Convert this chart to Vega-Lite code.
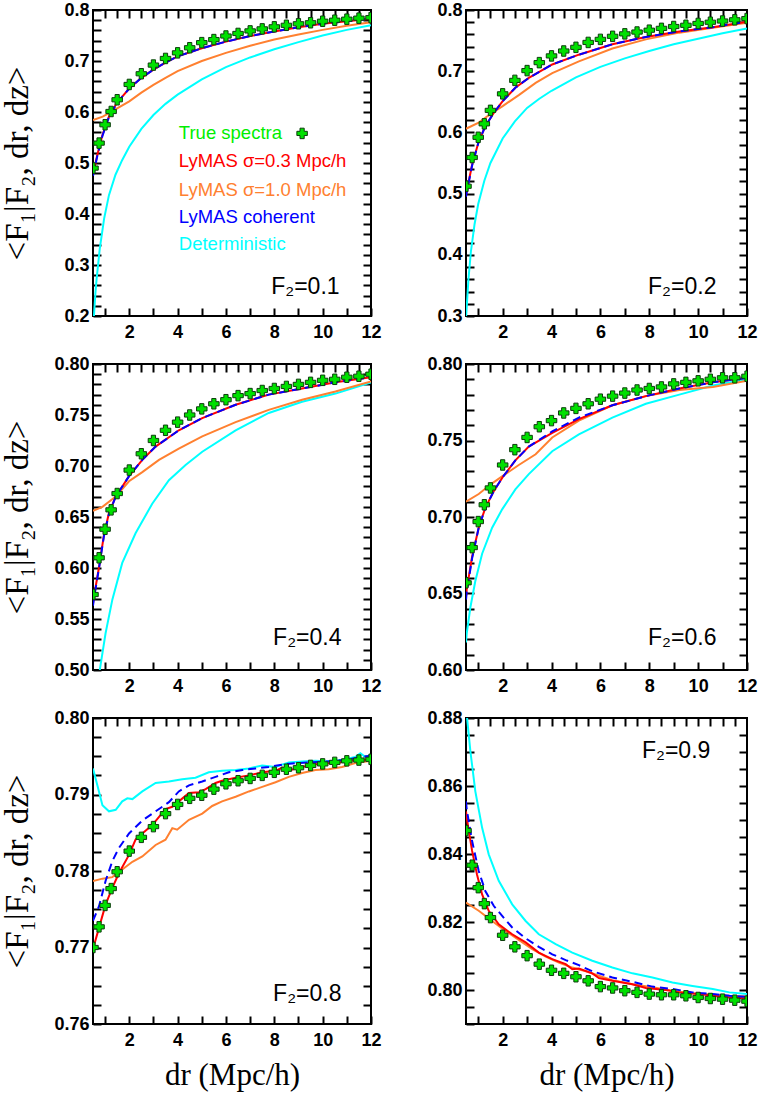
{
"$schema":"https://vega.github.io/schema/vega-lite/v6.json",
"padding":{"left":0,"top":0,"right":5,"bottom":5},
"datasets":{
"d":[
{"f":0.1,"s":"t","x":0.5,"y":0.49},{"f":0.1,"s":"t","x":0.75,"y":0.539},{"f":0.1,"s":"t","x":1,"y":0.575},{"f":0.1,"s":"t","x":1.25,"y":0.601},{"f":0.1,"s":"t","x":1.5,"y":0.624},{"f":0.1,"s":"t","x":2,"y":0.654},{"f":0.1,"s":"t","x":2.5,"y":0.675},{"f":0.1,"s":"t","x":3,"y":0.692},{"f":0.1,"s":"t","x":3.5,"y":0.705},{"f":0.1,"s":"t","x":4,"y":0.716},{"f":0.1,"s":"t","x":4.5,"y":0.726},{"f":0.1,"s":"t","x":5,"y":0.736},{"f":0.1,"s":"t","x":5.5,"y":0.742},{"f":0.1,"s":"t","x":6,"y":0.749},{"f":0.1,"s":"t","x":6.5,"y":0.754},{"f":0.1,"s":"t","x":7,"y":0.759},{"f":0.1,"s":"t","x":7.5,"y":0.763},{"f":0.1,"s":"t","x":8,"y":0.767},{"f":0.1,"s":"t","x":8.5,"y":0.77},{"f":0.1,"s":"t","x":9,"y":0.773},{"f":0.1,"s":"t","x":9.5,"y":0.775},{"f":0.1,"s":"t","x":10,"y":0.778},{"f":0.1,"s":"t","x":10.5,"y":0.78},{"f":0.1,"s":"t","x":11,"y":0.782},{"f":0.1,"s":"t","x":11.5,"y":0.784},{"f":0.1,"s":"t","x":12,"y":0.785},
{"f":0.1,"s":"r","x":0.5,"y":0.477},{"f":0.1,"s":"r","x":0.68,"y":0.516},{"f":0.1,"s":"r","x":0.89,"y":0.555},{"f":0.1,"s":"r","x":1.16,"y":0.591},{"f":0.1,"s":"r","x":1.44,"y":0.614},{"f":0.1,"s":"r","x":1.71,"y":0.63},{"f":0.1,"s":"r","x":2,"y":0.646},{"f":0.1,"s":"r","x":2.5,"y":0.667},{"f":0.1,"s":"r","x":3,"y":0.683},{"f":0.1,"s":"r","x":3.5,"y":0.697},{"f":0.1,"s":"r","x":4,"y":0.709},{"f":0.1,"s":"r","x":5,"y":0.725},{"f":0.1,"s":"r","x":6,"y":0.738},{"f":0.1,"s":"r","x":7,"y":0.749},{"f":0.1,"s":"r","x":8,"y":0.758},{"f":0.1,"s":"r","x":9,"y":0.766},{"f":0.1,"s":"r","x":10,"y":0.773},{"f":0.1,"s":"r","x":11,"y":0.778},{"f":0.1,"s":"r","x":12,"y":0.783},
{"f":0.1,"s":"b","x":0.5,"y":0.475},{"f":0.1,"s":"b","x":0.68,"y":0.514},{"f":0.1,"s":"b","x":0.89,"y":0.553},{"f":0.1,"s":"b","x":1.16,"y":0.59},{"f":0.1,"s":"b","x":1.44,"y":0.613},{"f":0.1,"s":"b","x":1.71,"y":0.63},{"f":0.1,"s":"b","x":2,"y":0.646},{"f":0.1,"s":"b","x":2.5,"y":0.667},{"f":0.1,"s":"b","x":3,"y":0.683},{"f":0.1,"s":"b","x":3.5,"y":0.697},{"f":0.1,"s":"b","x":4,"y":0.709},{"f":0.1,"s":"b","x":5,"y":0.725},{"f":0.1,"s":"b","x":6,"y":0.738},{"f":0.1,"s":"b","x":7,"y":0.749},{"f":0.1,"s":"b","x":8,"y":0.758},{"f":0.1,"s":"b","x":9,"y":0.766},{"f":0.1,"s":"b","x":10,"y":0.773},{"f":0.1,"s":"b","x":11,"y":0.778},{"f":0.1,"s":"b","x":12,"y":0.783},
{"f":0.1,"s":"o","x":0.5,"y":0.584},{"f":0.1,"s":"o","x":0.9,"y":0.591},{"f":0.1,"s":"o","x":1.3,"y":0.601},{"f":0.1,"s":"o","x":1.5,"y":0.607},{"f":0.1,"s":"o","x":2,"y":0.621},{"f":0.1,"s":"o","x":2.5,"y":0.638},{"f":0.1,"s":"o","x":3,"y":0.653},{"f":0.1,"s":"o","x":3.5,"y":0.667},{"f":0.1,"s":"o","x":4,"y":0.68},{"f":0.1,"s":"o","x":5,"y":0.7},{"f":0.1,"s":"o","x":6,"y":0.716},{"f":0.1,"s":"o","x":7,"y":0.73},{"f":0.1,"s":"o","x":8,"y":0.742},{"f":0.1,"s":"o","x":9,"y":0.752},{"f":0.1,"s":"o","x":10,"y":0.761},{"f":0.1,"s":"o","x":11,"y":0.769},{"f":0.1,"s":"o","x":12,"y":0.776},
{"f":0.1,"s":"c","x":0.5,"y":0.175},{"f":0.1,"s":"c","x":0.54,"y":0.201},{"f":0.1,"s":"c","x":0.6,"y":0.245},{"f":0.1,"s":"c","x":0.65,"y":0.273},{"f":0.1,"s":"c","x":0.78,"y":0.332},{"f":0.1,"s":"c","x":0.96,"y":0.391},{"f":0.1,"s":"c","x":1.16,"y":0.437},{"f":0.1,"s":"c","x":1.43,"y":0.477},{"f":0.1,"s":"c","x":1.71,"y":0.506},{"f":0.1,"s":"c","x":2,"y":0.532},{"f":0.1,"s":"c","x":2.5,"y":0.567},{"f":0.1,"s":"c","x":3,"y":0.594},{"f":0.1,"s":"c","x":3.5,"y":0.616},{"f":0.1,"s":"c","x":4,"y":0.634},{"f":0.1,"s":"c","x":5,"y":0.664},{"f":0.1,"s":"c","x":6,"y":0.688},{"f":0.1,"s":"c","x":7,"y":0.707},{"f":0.1,"s":"c","x":8,"y":0.723},{"f":0.1,"s":"c","x":9,"y":0.737},{"f":0.1,"s":"c","x":10,"y":0.75},{"f":0.1,"s":"c","x":11,"y":0.761},{"f":0.1,"s":"c","x":12,"y":0.77},

{"f":0.2,"s":"t","x":0.5,"y":0.512},{"f":0.2,"s":"t","x":0.75,"y":0.559},{"f":0.2,"s":"t","x":1,"y":0.592},{"f":0.2,"s":"t","x":1.25,"y":0.614},{"f":0.2,"s":"t","x":1.5,"y":0.636},{"f":0.2,"s":"t","x":2,"y":0.663},{"f":0.2,"s":"t","x":2.5,"y":0.685},{"f":0.2,"s":"t","x":3,"y":0.701},{"f":0.2,"s":"t","x":3.5,"y":0.714},{"f":0.2,"s":"t","x":4,"y":0.725},{"f":0.2,"s":"t","x":4.5,"y":0.733},{"f":0.2,"s":"t","x":5,"y":0.739},{"f":0.2,"s":"t","x":5.5,"y":0.747},{"f":0.2,"s":"t","x":6,"y":0.752},{"f":0.2,"s":"t","x":6.5,"y":0.757},{"f":0.2,"s":"t","x":7,"y":0.761},{"f":0.2,"s":"t","x":7.5,"y":0.764},{"f":0.2,"s":"t","x":8,"y":0.767},{"f":0.2,"s":"t","x":8.5,"y":0.77},{"f":0.2,"s":"t","x":9,"y":0.773},{"f":0.2,"s":"t","x":9.5,"y":0.775},{"f":0.2,"s":"t","x":10,"y":0.778},{"f":0.2,"s":"t","x":10.5,"y":0.78},{"f":0.2,"s":"t","x":11,"y":0.782},{"f":0.2,"s":"t","x":11.5,"y":0.784},{"f":0.2,"s":"t","x":12,"y":0.786},
{"f":0.2,"s":"r","x":0.5,"y":0.497},{"f":0.2,"s":"r","x":0.53,"y":0.504},{"f":0.2,"s":"r","x":0.75,"y":0.547},{"f":0.2,"s":"r","x":1.02,"y":0.585},{"f":0.2,"s":"r","x":1.29,"y":0.61},{"f":0.2,"s":"r","x":1.64,"y":0.632},{"f":0.2,"s":"r","x":2,"y":0.651},{"f":0.2,"s":"r","x":2.52,"y":0.673},{"f":0.2,"s":"r","x":3.07,"y":0.689},{"f":0.2,"s":"r","x":4.03,"y":0.711},{"f":0.2,"s":"r","x":5.12,"y":0.727},{"f":0.2,"s":"r","x":6.49,"y":0.744},{"f":0.2,"s":"r","x":7.86,"y":0.756},{"f":0.2,"s":"r","x":9.23,"y":0.765},{"f":0.2,"s":"r","x":10.6,"y":0.772},{"f":0.2,"s":"r","x":12,"y":0.781},
{"f":0.2,"s":"b","x":0.5,"y":0.495},{"f":0.2,"s":"b","x":0.53,"y":0.502},{"f":0.2,"s":"b","x":0.75,"y":0.546},{"f":0.2,"s":"b","x":1.02,"y":0.585},{"f":0.2,"s":"b","x":1.29,"y":0.61},{"f":0.2,"s":"b","x":1.64,"y":0.632},{"f":0.2,"s":"b","x":2,"y":0.651},{"f":0.2,"s":"b","x":2.52,"y":0.673},{"f":0.2,"s":"b","x":3.07,"y":0.689},{"f":0.2,"s":"b","x":4.03,"y":0.711},{"f":0.2,"s":"b","x":5.12,"y":0.727},{"f":0.2,"s":"b","x":6.49,"y":0.744},{"f":0.2,"s":"b","x":7.86,"y":0.756},{"f":0.2,"s":"b","x":9.23,"y":0.765},{"f":0.2,"s":"b","x":10.6,"y":0.772},{"f":0.2,"s":"b","x":12,"y":0.781},
{"f":0.2,"s":"o","x":0.5,"y":0.606},{"f":0.2,"s":"o","x":1.02,"y":0.616},{"f":0.2,"s":"o","x":1.57,"y":0.632},{"f":0.2,"s":"o","x":2,"y":0.643},{"f":0.2,"s":"o","x":2.66,"y":0.661},{"f":0.2,"s":"o","x":3.35,"y":0.681},{"f":0.2,"s":"o","x":4.03,"y":0.697},{"f":0.2,"s":"o","x":5.12,"y":0.716},{"f":0.2,"s":"o","x":6.49,"y":0.737},{"f":0.2,"s":"o","x":7.86,"y":0.752},{"f":0.2,"s":"o","x":9.23,"y":0.763},{"f":0.2,"s":"o","x":10.6,"y":0.771},{"f":0.2,"s":"o","x":12,"y":0.779},
{"f":0.2,"s":"c","x":0.5,"y":0.296},{"f":0.2,"s":"c","x":0.6,"y":0.36},{"f":0.2,"s":"c","x":0.7,"y":0.405},{"f":0.2,"s":"c","x":0.85,"y":0.45},{"f":0.2,"s":"c","x":1,"y":0.483},{"f":0.2,"s":"c","x":1.25,"y":0.521},{"f":0.2,"s":"c","x":1.5,"y":0.55},{"f":0.2,"s":"c","x":2,"y":0.59},{"f":0.2,"s":"c","x":2.5,"y":0.618},{"f":0.2,"s":"c","x":3,"y":0.64},{"f":0.2,"s":"c","x":3.5,"y":0.655},{"f":0.2,"s":"c","x":4,"y":0.668},{"f":0.2,"s":"c","x":5,"y":0.69},{"f":0.2,"s":"c","x":6,"y":0.707},{"f":0.2,"s":"c","x":7,"y":0.721},{"f":0.2,"s":"c","x":8,"y":0.733},{"f":0.2,"s":"c","x":9,"y":0.744},{"f":0.2,"s":"c","x":10,"y":0.753},{"f":0.2,"s":"c","x":11,"y":0.762},{"f":0.2,"s":"c","x":12,"y":0.77},

{"f":0.4,"s":"t","x":0.5,"y":0.574},{"f":0.4,"s":"t","x":0.75,"y":0.61},{"f":0.4,"s":"t","x":1,"y":0.638},{"f":0.4,"s":"t","x":1.25,"y":0.657},{"f":0.4,"s":"t","x":1.5,"y":0.673},{"f":0.4,"s":"t","x":2,"y":0.696},{"f":0.4,"s":"t","x":2.5,"y":0.712},{"f":0.4,"s":"t","x":3,"y":0.725},{"f":0.4,"s":"t","x":3.5,"y":0.735},{"f":0.4,"s":"t","x":4,"y":0.743},{"f":0.4,"s":"t","x":4.5,"y":0.75},{"f":0.4,"s":"t","x":5,"y":0.756},{"f":0.4,"s":"t","x":5.5,"y":0.761},{"f":0.4,"s":"t","x":6,"y":0.765},{"f":0.4,"s":"t","x":6.5,"y":0.769},{"f":0.4,"s":"t","x":7,"y":0.771},{"f":0.4,"s":"t","x":7.5,"y":0.774},{"f":0.4,"s":"t","x":8,"y":0.776},{"f":0.4,"s":"t","x":8.5,"y":0.778},{"f":0.4,"s":"t","x":9,"y":0.78},{"f":0.4,"s":"t","x":9.5,"y":0.782},{"f":0.4,"s":"t","x":10,"y":0.784},{"f":0.4,"s":"t","x":10.5,"y":0.785},{"f":0.4,"s":"t","x":11,"y":0.787},{"f":0.4,"s":"t","x":11.5,"y":0.788},{"f":0.4,"s":"t","x":12,"y":0.79},
{"f":0.4,"s":"r","x":0.5,"y":0.565},{"f":0.4,"s":"r","x":0.54,"y":0.572},{"f":0.4,"s":"r","x":0.75,"y":0.601},{"f":0.4,"s":"r","x":0.95,"y":0.632},{"f":0.4,"s":"r","x":1.16,"y":0.654},{"f":0.4,"s":"r","x":1.44,"y":0.67},{"f":0.4,"s":"r","x":1.99,"y":0.69},{"f":0.4,"s":"r","x":2.54,"y":0.706},{"f":0.4,"s":"r","x":3.09,"y":0.719},{"f":0.4,"s":"r","x":4.05,"y":0.735},{"f":0.4,"s":"r","x":5.02,"y":0.747},{"f":0.4,"s":"r","x":6.4,"y":0.76},{"f":0.4,"s":"r","x":7.77,"y":0.77},{"f":0.4,"s":"r","x":9.15,"y":0.776},{"f":0.4,"s":"r","x":10.53,"y":0.782},{"f":0.4,"s":"r","x":12,"y":0.787},
{"f":0.4,"s":"b","x":0.5,"y":0.563},{"f":0.4,"s":"b","x":0.54,"y":0.57},{"f":0.4,"s":"b","x":0.75,"y":0.6},{"f":0.4,"s":"b","x":0.95,"y":0.631},{"f":0.4,"s":"b","x":1.16,"y":0.653},{"f":0.4,"s":"b","x":1.44,"y":0.67},{"f":0.4,"s":"b","x":1.99,"y":0.69},{"f":0.4,"s":"b","x":2.54,"y":0.706},{"f":0.4,"s":"b","x":3.09,"y":0.719},{"f":0.4,"s":"b","x":4.05,"y":0.735},{"f":0.4,"s":"b","x":5.02,"y":0.747},{"f":0.4,"s":"b","x":6.4,"y":0.76},{"f":0.4,"s":"b","x":7.77,"y":0.77},{"f":0.4,"s":"b","x":9.15,"y":0.776},{"f":0.4,"s":"b","x":10.53,"y":0.782},{"f":0.4,"s":"b","x":12,"y":0.787},
{"f":0.4,"s":"o","x":0.5,"y":0.656},{"f":0.4,"s":"o","x":0.89,"y":0.66},{"f":0.4,"s":"o","x":1.44,"y":0.67},{"f":0.4,"s":"o","x":1.99,"y":0.685},{"f":0.4,"s":"o","x":2.54,"y":0.694},{"f":0.4,"s":"o","x":3.23,"y":0.706},{"f":0.4,"s":"o","x":4.05,"y":0.717},{"f":0.4,"s":"o","x":5.02,"y":0.729},{"f":0.4,"s":"o","x":6.4,"y":0.743},{"f":0.4,"s":"o","x":7.77,"y":0.755},{"f":0.4,"s":"o","x":9.15,"y":0.765},{"f":0.4,"s":"o","x":10.53,"y":0.773},{"f":0.4,"s":"o","x":12,"y":0.783},
{"f":0.4,"s":"c","x":0.7,"y":0.47},{"f":0.4,"s":"c","x":0.78,"y":0.5},{"f":0.4,"s":"c","x":1.02,"y":0.536},{"f":0.4,"s":"c","x":1.3,"y":0.569},{"f":0.4,"s":"c","x":1.71,"y":0.605},{"f":0.4,"s":"c","x":2.26,"y":0.634},{"f":0.4,"s":"c","x":2.95,"y":0.663},{"f":0.4,"s":"c","x":3.64,"y":0.686},{"f":0.4,"s":"c","x":4.33,"y":0.701},{"f":0.4,"s":"c","x":5.02,"y":0.714},{"f":0.4,"s":"c","x":6.4,"y":0.735},{"f":0.4,"s":"c","x":7.77,"y":0.752},{"f":0.4,"s":"c","x":9.15,"y":0.763},{"f":0.4,"s":"c","x":10.53,"y":0.771},{"f":0.4,"s":"c","x":12,"y":0.782},

{"f":0.6,"s":"t","x":0.5,"y":0.657},{"f":0.6,"s":"t","x":0.75,"y":0.68},{"f":0.6,"s":"t","x":1,"y":0.697},{"f":0.6,"s":"t","x":1.25,"y":0.708},{"f":0.6,"s":"t","x":1.5,"y":0.719},{"f":0.6,"s":"t","x":2,"y":0.734},{"f":0.6,"s":"t","x":2.5,"y":0.744},{"f":0.6,"s":"t","x":3,"y":0.752},{"f":0.6,"s":"t","x":3.5,"y":0.759},{"f":0.6,"s":"t","x":4,"y":0.763},{"f":0.6,"s":"t","x":4.5,"y":0.768},{"f":0.6,"s":"t","x":5,"y":0.771},{"f":0.6,"s":"t","x":5.5,"y":0.774},{"f":0.6,"s":"t","x":6,"y":0.777},{"f":0.6,"s":"t","x":6.5,"y":0.779},{"f":0.6,"s":"t","x":7,"y":0.781},{"f":0.6,"s":"t","x":7.5,"y":0.783},{"f":0.6,"s":"t","x":8,"y":0.784},{"f":0.6,"s":"t","x":8.5,"y":0.785},{"f":0.6,"s":"t","x":9,"y":0.787},{"f":0.6,"s":"t","x":9.5,"y":0.788},{"f":0.6,"s":"t","x":10,"y":0.789},{"f":0.6,"s":"t","x":10.5,"y":0.79},{"f":0.6,"s":"t","x":11,"y":0.791},{"f":0.6,"s":"t","x":11.5,"y":0.791},{"f":0.6,"s":"t","x":12,"y":0.792},
{"f":0.6,"s":"r","x":0.5,"y":0.648},{"f":0.6,"s":"r","x":0.53,"y":0.653},{"f":0.6,"s":"r","x":0.75,"y":0.674},{"f":0.6,"s":"r","x":1.02,"y":0.693},{"f":0.6,"s":"r","x":1.29,"y":0.706},{"f":0.6,"s":"r","x":1.64,"y":0.717},{"f":0.6,"s":"r","x":2,"y":0.726},{"f":0.6,"s":"r","x":2.52,"y":0.737},{"f":0.6,"s":"r","x":3.07,"y":0.746},{"f":0.6,"s":"r","x":4.03,"y":0.755},{"f":0.6,"s":"r","x":5.12,"y":0.764},{"f":0.6,"s":"r","x":6.49,"y":0.773},{"f":0.6,"s":"r","x":7.86,"y":0.779},{"f":0.6,"s":"r","x":9.23,"y":0.784},{"f":0.6,"s":"r","x":10.6,"y":0.788},{"f":0.6,"s":"r","x":12,"y":0.791},
{"f":0.6,"s":"b","x":0.5,"y":0.646},{"f":0.6,"s":"b","x":0.53,"y":0.651},{"f":0.6,"s":"b","x":0.75,"y":0.673},{"f":0.6,"s":"b","x":1.02,"y":0.693},{"f":0.6,"s":"b","x":1.29,"y":0.706},{"f":0.6,"s":"b","x":1.64,"y":0.717},{"f":0.6,"s":"b","x":2,"y":0.726},{"f":0.6,"s":"b","x":2.52,"y":0.737},{"f":0.6,"s":"b","x":3.07,"y":0.746},{"f":0.6,"s":"b","x":4.03,"y":0.756},{"f":0.6,"s":"b","x":5.12,"y":0.765},{"f":0.6,"s":"b","x":6.49,"y":0.773},{"f":0.6,"s":"b","x":7.86,"y":0.779},{"f":0.6,"s":"b","x":9.23,"y":0.784},{"f":0.6,"s":"b","x":10.6,"y":0.788},{"f":0.6,"s":"b","x":12,"y":0.791},
{"f":0.6,"s":"o","x":0.5,"y":0.71},{"f":0.6,"s":"o","x":1.02,"y":0.715},{"f":0.6,"s":"o","x":1.57,"y":0.722},{"f":0.6,"s":"o","x":2.11,"y":0.728},{"f":0.6,"s":"o","x":2.66,"y":0.734},{"f":0.6,"s":"o","x":3.35,"y":0.741},{"f":0.6,"s":"o","x":4.03,"y":0.752},{"f":0.6,"s":"o","x":5.12,"y":0.763},{"f":0.6,"s":"o","x":6.49,"y":0.773},{"f":0.6,"s":"o","x":7.86,"y":0.779},{"f":0.6,"s":"o","x":9.23,"y":0.783},{"f":0.6,"s":"o","x":10.6,"y":0.785},{"f":0.6,"s":"o","x":12,"y":0.789},
{"f":0.6,"s":"c","x":0.5,"y":0.618},{"f":0.6,"s":"c","x":0.53,"y":0.624},{"f":0.6,"s":"c","x":0.68,"y":0.641},{"f":0.6,"s":"c","x":0.88,"y":0.658},{"f":0.6,"s":"c","x":1.16,"y":0.676},{"f":0.6,"s":"c","x":1.57,"y":0.693},{"f":0.6,"s":"c","x":1.98,"y":0.705},{"f":0.6,"s":"c","x":2.52,"y":0.718},{"f":0.6,"s":"c","x":3.07,"y":0.728},{"f":0.6,"s":"c","x":4.03,"y":0.743},{"f":0.6,"s":"c","x":5.12,"y":0.754},{"f":0.6,"s":"c","x":6.49,"y":0.765},{"f":0.6,"s":"c","x":7.86,"y":0.774},{"f":0.6,"s":"c","x":9.23,"y":0.78},{"f":0.6,"s":"c","x":10.6,"y":0.786},{"f":0.6,"s":"c","x":12,"y":0.79},

{"f":0.8,"s":"t","x":0.5,"y":0.77},{"f":0.8,"s":"t","x":0.75,"y":0.7727},{"f":0.8,"s":"t","x":1,"y":0.7755},{"f":0.8,"s":"t","x":1.25,"y":0.7777},{"f":0.8,"s":"t","x":1.5,"y":0.7799},{"f":0.8,"s":"t","x":2,"y":0.7826},{"f":0.8,"s":"t","x":2.5,"y":0.7844},{"f":0.8,"s":"t","x":3,"y":0.7858},{"f":0.8,"s":"t","x":3.5,"y":0.7875},{"f":0.8,"s":"t","x":4,"y":0.7887},{"f":0.8,"s":"t","x":4.5,"y":0.7895},{"f":0.8,"s":"t","x":5,"y":0.7899},{"f":0.8,"s":"t","x":5.5,"y":0.7907},{"f":0.8,"s":"t","x":6,"y":0.7914},{"f":0.8,"s":"t","x":6.5,"y":0.7918},{"f":0.8,"s":"t","x":7,"y":0.7921},{"f":0.8,"s":"t","x":7.5,"y":0.7925},{"f":0.8,"s":"t","x":8,"y":0.7929},{"f":0.8,"s":"t","x":8.5,"y":0.7933},{"f":0.8,"s":"t","x":9,"y":0.7935},{"f":0.8,"s":"t","x":9.5,"y":0.7938},{"f":0.8,"s":"t","x":10,"y":0.794},{"f":0.8,"s":"t","x":10.5,"y":0.7942},{"f":0.8,"s":"t","x":11,"y":0.7944},{"f":0.8,"s":"t","x":11.5,"y":0.7945},{"f":0.8,"s":"t","x":12,"y":0.7946},
{"f":0.8,"s":"r","x":0.5,"y":0.7698},{"f":0.8,"s":"r","x":0.75,"y":0.7726},{"f":0.8,"s":"r","x":1.02,"y":0.7756},{"f":0.8,"s":"r","x":1.3,"y":0.7778},{"f":0.8,"s":"r","x":1.57,"y":0.7797},{"f":0.8,"s":"r","x":1.99,"y":0.7821},{"f":0.8,"s":"r","x":2.26,"y":0.7841},{"f":0.8,"s":"r","x":2.54,"y":0.7849},{"f":0.8,"s":"r","x":2.95,"y":0.786},{"f":0.8,"s":"r","x":3.5,"y":0.7881},{"f":0.8,"s":"r","x":3.78,"y":0.7884},{"f":0.8,"s":"r","x":4.05,"y":0.7891},{"f":0.8,"s":"r","x":4.47,"y":0.7902},{"f":0.8,"s":"r","x":4.88,"y":0.7903},{"f":0.8,"s":"r","x":5.16,"y":0.7907},{"f":0.8,"s":"r","x":5.57,"y":0.7915},{"f":0.8,"s":"r","x":5.84,"y":0.7918},{"f":0.8,"s":"r","x":6.4,"y":0.7922},{"f":0.8,"s":"r","x":6.95,"y":0.7925},{"f":0.8,"s":"r","x":7.5,"y":0.7929},{"f":0.8,"s":"r","x":8.05,"y":0.7931},{"f":0.8,"s":"r","x":8.32,"y":0.7935},{"f":0.8,"s":"r","x":8.6,"y":0.7931},{"f":0.8,"s":"r","x":8.87,"y":0.7934},{"f":0.8,"s":"r","x":9.43,"y":0.7938},{"f":0.8,"s":"r","x":9.98,"y":0.7941},{"f":0.8,"s":"r","x":10.53,"y":0.7941},{"f":0.8,"s":"r","x":11.08,"y":0.7944},{"f":0.8,"s":"r","x":11.63,"y":0.7945},{"f":0.8,"s":"r","x":12,"y":0.7946},
{"f":0.8,"s":"b","x":0.5,"y":0.7735},{"f":0.8,"s":"b","x":0.75,"y":0.7754},{"f":0.8,"s":"b","x":1.02,"y":0.7787},{"f":0.8,"s":"b","x":1.3,"y":0.7813},{"f":0.8,"s":"b","x":1.57,"y":0.783},{"f":0.8,"s":"b","x":1.99,"y":0.7849},{"f":0.8,"s":"b","x":2.54,"y":0.7866},{"f":0.8,"s":"b","x":3.09,"y":0.7878},{"f":0.8,"s":"b","x":3.64,"y":0.789},{"f":0.8,"s":"b","x":4.05,"y":0.7904},{"f":0.8,"s":"b","x":4.47,"y":0.7912},{"f":0.8,"s":"b","x":5.02,"y":0.7917},{"f":0.8,"s":"b","x":5.57,"y":0.7923},{"f":0.8,"s":"b","x":6.12,"y":0.7929},{"f":0.8,"s":"b","x":6.68,"y":0.7932},{"f":0.8,"s":"b","x":7.22,"y":0.7934},{"f":0.8,"s":"b","x":7.77,"y":0.7936},{"f":0.8,"s":"b","x":8.32,"y":0.7939},{"f":0.8,"s":"b","x":8.87,"y":0.7941},{"f":0.8,"s":"b","x":9.43,"y":0.7942},{"f":0.8,"s":"b","x":9.98,"y":0.7943},{"f":0.8,"s":"b","x":10.53,"y":0.7944},{"f":0.8,"s":"b","x":11.08,"y":0.7946},{"f":0.8,"s":"b","x":11.63,"y":0.7949},{"f":0.8,"s":"b","x":12,"y":0.7951},
{"f":0.8,"s":"o","x":0.5,"y":0.7787},{"f":0.8,"s":"o","x":0.89,"y":0.779},{"f":0.8,"s":"o","x":1.3,"y":0.7792},{"f":0.8,"s":"o","x":1.71,"y":0.7802},{"f":0.8,"s":"o","x":2.13,"y":0.7812},{"f":0.8,"s":"o","x":2.54,"y":0.7819},{"f":0.8,"s":"o","x":3.09,"y":0.7834},{"f":0.8,"s":"o","x":3.5,"y":0.7841},{"f":0.8,"s":"o","x":3.78,"y":0.7856},{"f":0.8,"s":"o","x":3.98,"y":0.7854},{"f":0.8,"s":"o","x":4.47,"y":0.7867},{"f":0.8,"s":"o","x":5.02,"y":0.7875},{"f":0.8,"s":"o","x":5.43,"y":0.7885},{"f":0.8,"s":"o","x":5.84,"y":0.7891},{"f":0.8,"s":"o","x":6.4,"y":0.7897},{"f":0.8,"s":"o","x":6.95,"y":0.7904},{"f":0.8,"s":"o","x":7.5,"y":0.791},{"f":0.8,"s":"o","x":8.05,"y":0.7916},{"f":0.8,"s":"o","x":8.6,"y":0.7923},{"f":0.8,"s":"o","x":9.15,"y":0.7928},{"f":0.8,"s":"o","x":9.7,"y":0.7932},{"f":0.8,"s":"o","x":10.25,"y":0.7933},{"f":0.8,"s":"o","x":10.8,"y":0.7936},{"f":0.8,"s":"o","x":11.35,"y":0.7941},{"f":0.8,"s":"o","x":12,"y":0.7944},
{"f":0.8,"s":"c","x":0.5,"y":0.7934},{"f":0.8,"s":"c","x":0.68,"y":0.7912},{"f":0.8,"s":"c","x":0.89,"y":0.7886},{"f":0.8,"s":"c","x":1.16,"y":0.7878},{"f":0.8,"s":"c","x":1.44,"y":0.788},{"f":0.8,"s":"c","x":1.71,"y":0.7891},{"f":0.8,"s":"c","x":1.92,"y":0.7895},{"f":0.8,"s":"c","x":2.13,"y":0.7894},{"f":0.8,"s":"c","x":2.54,"y":0.7904},{"f":0.8,"s":"c","x":3.09,"y":0.7915},{"f":0.8,"s":"c","x":3.64,"y":0.7917},{"f":0.8,"s":"c","x":4.19,"y":0.792},{"f":0.8,"s":"c","x":4.74,"y":0.7922},{"f":0.8,"s":"c","x":5.29,"y":0.7929},{"f":0.8,"s":"c","x":5.84,"y":0.7931},{"f":0.8,"s":"c","x":6.4,"y":0.7932},{"f":0.8,"s":"c","x":6.95,"y":0.7934},{"f":0.8,"s":"c","x":7.5,"y":0.7938},{"f":0.8,"s":"c","x":8.05,"y":0.7936},{"f":0.8,"s":"c","x":8.6,"y":0.7942},{"f":0.8,"s":"c","x":9.15,"y":0.7943},{"f":0.8,"s":"c","x":9.7,"y":0.7944},{"f":0.8,"s":"c","x":10.25,"y":0.7943},{"f":0.8,"s":"c","x":10.8,"y":0.7945},{"f":0.8,"s":"c","x":11.35,"y":0.7949},{"f":0.8,"s":"c","x":11.56,"y":0.7954},{"f":0.8,"s":"c","x":11.77,"y":0.7949},{"f":0.8,"s":"c","x":12,"y":0.7951},

{"f":0.9,"s":"t","x":0.5,"y":0.8469},{"f":0.9,"s":"t","x":0.75,"y":0.8367},{"f":0.9,"s":"t","x":1,"y":0.8301},{"f":0.9,"s":"t","x":1.25,"y":0.8254},{"f":0.9,"s":"t","x":1.5,"y":0.8213},{"f":0.9,"s":"t","x":2,"y":0.8161},{"f":0.9,"s":"t","x":2.5,"y":0.8127},{"f":0.9,"s":"t","x":3,"y":0.8101},{"f":0.9,"s":"t","x":3.5,"y":0.8076},{"f":0.9,"s":"t","x":4,"y":0.8058},{"f":0.9,"s":"t","x":4.5,"y":0.8049},{"f":0.9,"s":"t","x":5,"y":0.8039},{"f":0.9,"s":"t","x":5.5,"y":0.8027},{"f":0.9,"s":"t","x":6,"y":0.801},{"f":0.9,"s":"t","x":6.5,"y":0.8006},{"f":0.9,"s":"t","x":7,"y":0.7998},{"f":0.9,"s":"t","x":7.5,"y":0.7993},{"f":0.9,"s":"t","x":8,"y":0.7988},{"f":0.9,"s":"t","x":8.5,"y":0.7986},{"f":0.9,"s":"t","x":9,"y":0.7986},{"f":0.9,"s":"t","x":9.5,"y":0.7983},{"f":0.9,"s":"t","x":10,"y":0.7978},{"f":0.9,"s":"t","x":10.5,"y":0.7975},{"f":0.9,"s":"t","x":11,"y":0.7973},{"f":0.9,"s":"t","x":11.5,"y":0.797},{"f":0.9,"s":"t","x":12,"y":0.7967},
{"f":0.9,"s":"r","x":0.5,"y":0.8525},{"f":0.9,"s":"r","x":0.55,"y":0.8497},{"f":0.9,"s":"r","x":0.75,"y":0.8409},{"f":0.9,"s":"r","x":0.95,"y":0.834},{"f":0.9,"s":"r","x":1.16,"y":0.8281},{"f":0.9,"s":"r","x":1.43,"y":0.8233},{"f":0.9,"s":"r","x":1.84,"y":0.8193},{"f":0.9,"s":"r","x":2.39,"y":0.8164},{"f":0.9,"s":"r","x":2.94,"y":0.814},{"f":0.9,"s":"r","x":3.48,"y":0.811},{"f":0.9,"s":"r","x":4.03,"y":0.8091},{"f":0.9,"s":"r","x":4.58,"y":0.8076},{"f":0.9,"s":"r","x":4.85,"y":0.8061},{"f":0.9,"s":"r","x":5.12,"y":0.8063},{"f":0.9,"s":"r","x":5.67,"y":0.8049},{"f":0.9,"s":"r","x":5.94,"y":0.8035},{"f":0.9,"s":"r","x":6.49,"y":0.8027},{"f":0.9,"s":"r","x":7.31,"y":0.8017},{"f":0.9,"s":"r","x":7.86,"y":0.8006},{"f":0.9,"s":"r","x":8.68,"y":0.8},{"f":0.9,"s":"r","x":9.23,"y":0.7993},{"f":0.9,"s":"r","x":10.05,"y":0.7988},{"f":0.9,"s":"r","x":10.6,"y":0.7983},{"f":0.9,"s":"r","x":11.28,"y":0.7978},{"f":0.9,"s":"r","x":12,"y":0.7976},
{"f":0.9,"s":"b","x":0.5,"y":0.8555},{"f":0.9,"s":"b","x":0.53,"y":0.8531},{"f":0.9,"s":"b","x":0.75,"y":0.8438},{"f":0.9,"s":"b","x":1.02,"y":0.835},{"f":0.9,"s":"b","x":1.29,"y":0.8291},{"f":0.9,"s":"b","x":1.64,"y":0.8247},{"f":0.9,"s":"b","x":1.98,"y":0.8218},{"f":0.9,"s":"b","x":2.39,"y":0.8184},{"f":0.9,"s":"b","x":2.94,"y":0.8152},{"f":0.9,"s":"b","x":3.48,"y":0.8127},{"f":0.9,"s":"b","x":4.03,"y":0.8105},{"f":0.9,"s":"b","x":4.58,"y":0.8088},{"f":0.9,"s":"b","x":5.12,"y":0.8073},{"f":0.9,"s":"b","x":5.67,"y":0.8055},{"f":0.9,"s":"b","x":6.49,"y":0.8037},{"f":0.9,"s":"b","x":7.31,"y":0.8024},{"f":0.9,"s":"b","x":8.13,"y":0.801},{"f":0.9,"s":"b","x":8.95,"y":0.8003},{"f":0.9,"s":"b","x":9.77,"y":0.7993},{"f":0.9,"s":"b","x":10.6,"y":0.7988},{"f":0.9,"s":"b","x":11.28,"y":0.7983},{"f":0.9,"s":"b","x":12,"y":0.798},
{"f":0.9,"s":"o","x":0.5,"y":0.8257},{"f":0.9,"s":"o","x":1.02,"y":0.8233},{"f":0.9,"s":"o","x":1.57,"y":0.8203},{"f":0.9,"s":"o","x":2.11,"y":0.8174},{"f":0.9,"s":"o","x":2.66,"y":0.8147},{"f":0.9,"s":"o","x":3.21,"y":0.812},{"f":0.9,"s":"o","x":3.76,"y":0.8098},{"f":0.9,"s":"o","x":4.3,"y":0.8081},{"f":0.9,"s":"o","x":4.85,"y":0.8066},{"f":0.9,"s":"o","x":5.4,"y":0.8055},{"f":0.9,"s":"o","x":5.94,"y":0.8042},{"f":0.9,"s":"o","x":6.49,"y":0.8029},{"f":0.9,"s":"o","x":7.31,"y":0.8017},{"f":0.9,"s":"o","x":8.13,"y":0.8008},{"f":0.9,"s":"o","x":8.95,"y":0.7998},{"f":0.9,"s":"o","x":9.77,"y":0.799},{"f":0.9,"s":"o","x":10.6,"y":0.7986},{"f":0.9,"s":"o","x":11.28,"y":0.7983},{"f":0.9,"s":"o","x":12,"y":0.7981},
{"f":0.9,"s":"c","x":0.5,"y":0.884},{"f":0.9,"s":"c","x":0.55,"y":0.8795},{"f":0.9,"s":"c","x":0.68,"y":0.8702},{"f":0.9,"s":"c","x":0.88,"y":0.8585},{"f":0.9,"s":"c","x":1.16,"y":0.8477},{"f":0.9,"s":"c","x":1.43,"y":0.8399},{"f":0.9,"s":"c","x":1.84,"y":0.8321},{"f":0.9,"s":"c","x":2.39,"y":0.8252},{"f":0.9,"s":"c","x":2.94,"y":0.8203},{"f":0.9,"s":"c","x":3.48,"y":0.8164},{"f":0.9,"s":"c","x":4.17,"y":0.8135},{"f":0.9,"s":"c","x":4.85,"y":0.811},{"f":0.9,"s":"c","x":5.67,"y":0.8086},{"f":0.9,"s":"c","x":6.49,"y":0.8066},{"f":0.9,"s":"c","x":7.31,"y":0.8049},{"f":0.9,"s":"c","x":8.13,"y":0.8037},{"f":0.9,"s":"c","x":8.95,"y":0.8022},{"f":0.9,"s":"c","x":9.77,"y":0.8012},{"f":0.9,"s":"c","x":10.6,"y":0.8003},{"f":0.9,"s":"c","x":11.28,"y":0.7993},{"f":0.9,"s":"c","x":12,"y":0.7988}
],
"lab":[
{"f":0.1,"x":10.7,"y":0.257,"t":"F₂=0.1"},{"f":0.2,"x":10.75,"y":0.3475,"t":"F₂=0.2"},{"f":0.4,"x":10.78,"y":0.531,"t":"F₂=0.4"},{"f":0.6,"x":10.75,"y":0.621,"t":"F₂=0.6"},{"f":0.8,"x":10.78,"y":0.7639,"t":"F₂=0.8"},{"f":0.9,"x":10.5,"y":0.8703,"t":"F₂=0.9"}
],
"leg":[
{"s":"t","x":4.05,"y":0.558,"t":"True spectra"},{"s":"r","x":4.05,"y":0.503,"t":"LyMAS σ=0.3 Mpc/h"},{"s":"o","x":4.05,"y":0.448,"t":"LyMAS σ=1.0 Mpc/h"},{"s":"b","x":4.05,"y":0.395,"t":"LyMAS coherent"},{"s":"c","x":4.05,"y":0.342,"t":"Deterministic"}
],
"legm":[{"x":9.15,"y":0.558}]
},
"columns":2,
"spacing":{"row":48,"column":95},
"bounds":"flush",
"concat":[
{"width":278,"height":306,"data":{"name":"d"},"transform":[{"filter":"datum.f==0.1"}],
"encoding":{"x":{"field":"x","type":"quantitative","scale":{"domain":[0.5,12],"nice":false,"zero":false},"axis":null},"y":{"field":"y","type":"quantitative","scale":{"domain":[0.2,0.8],"nice":false,"zero":false},"axis":null}},
"layer":[
{"transform":[{"filter":"datum.s=='c'"}],"mark":{"type":"line","stroke":"#00ffff","strokeWidth":2,"clip":true},
"encoding":{"x":{"field":"x","type":"quantitative","scale":{"domain":[0.5,12],"nice":false,"zero":false},"axis":{"orient":"bottom","values":[1,1.5,2,2.5,3,3.5,4,4.5,5,5.5,6,6.5,7,7.5,8,8.5,9,9.5,10,10.5,11,11.5,12],"format":"d","labelExpr":"datum.value % 2 == 0 ? datum.label : ''","offset":-8,"tickSize":8,"labelPadding":7,"title":null}},
"y":{"field":"y","type":"quantitative","scale":{"domain":[0.2,0.8],"nice":false,"zero":false},"axis":{"orient":"left","values":[0.2,0.22,0.24,0.26,0.28,0.3,0.32,0.34,0.36,0.38,0.4,0.42,0.44,0.46,0.48,0.5,0.52,0.54,0.56,0.58,0.6,0.62,0.64,0.66,0.68,0.7,0.72,0.74,0.76,0.78,0.8],"format":".1f","labelExpr":"abs(datum.value*10-round(datum.value*10))<0.001 ? datum.label : ''","offset":-8,"tickSize":8,"labelPadding":4,"title":"<F₁|F₂, dr, dz>","titlePadding":29}}}},
{"transform":[{"filter":"datum.s=='o'"}],"mark":{"type":"line","stroke":"#ff8030","strokeWidth":2,"clip":true},
"encoding":{"x":{"field":"x","type":"quantitative","scale":{"domain":[0.5,12],"nice":false,"zero":false},"axis":{"orient":"top","values":[1,1.5,2,2.5,3,3.5,4,4.5,5,5.5,6,6.5,7,7.5,8,8.5,9,9.5,10,10.5,11,11.5],"labels":false,"offset":-8,"tickSize":8,"title":null}},
"y":{"field":"y","type":"quantitative","scale":{"domain":[0.2,0.8],"nice":false,"zero":false},"axis":{"orient":"right","values":[0.22,0.24,0.26,0.28,0.3,0.32,0.34,0.36,0.38,0.4,0.42,0.44,0.46,0.48,0.5,0.52,0.54,0.56,0.58,0.6,0.62,0.64,0.66,0.68,0.7,0.72,0.74,0.76,0.78],"labels":false,"offset":-8,"tickSize":8,"title":null}}}},
{"transform":[{"filter":"datum.s=='r'"}],"mark":{"type":"line","stroke":"#ff0000","strokeWidth":2,"clip":true}},
{"transform":[{"filter":"datum.s=='b'"}],"mark":{"type":"line","stroke":"#0000ff","strokeWidth":2,"strokeDash":[8,5],"clip":true}},
{"transform":[{"filter":"datum.s=='t'"}],"mark":{"type":"point","shape":"cross","size":110,"filled":true,"fill":"#00e000","stroke":"#0d3d0d","strokeWidth":1,"opacity":1,"clip":true}},
{"data":{"name":"lab"},"transform":[{"filter":"datum.f==0.1"}],"mark":{"type":"text","align":"right","baseline":"middle","font":"Liberation Sans","fontSize":23,"color":"black"},"encoding":{"text":{"field":"t"}}},
{"data":{"name":"leg"},"mark":{"type":"text","align":"left","baseline":"middle","font":"Liberation Sans","fontSize":18.5},"encoding":{"text":{"field":"t"},"color":{"field":"s","type":"nominal","scale":{"domain":["t","r","o","b","c"],"range":["#00ee00","#ff0000","#ff8030","#0000ff","#00ffff"]},"legend":null}}},
{"data":{"name":"legm"},"mark":{"type":"point","shape":"cross","size":110,"filled":true,"fill":"#00e000","stroke":"#0d3d0d","strokeWidth":1,"opacity":1}}
],
"resolve":{"axis":{"x":"independent","y":"independent"}}},

{"width":281,"height":306,"data":{"name":"d"},"transform":[{"filter":"datum.f==0.2"}],
"encoding":{"x":{"field":"x","type":"quantitative","scale":{"domain":[0.5,12],"nice":false,"zero":false},"axis":null},"y":{"field":"y","type":"quantitative","scale":{"domain":[0.3,0.8],"nice":false,"zero":false},"axis":null}},
"layer":[
{"transform":[{"filter":"datum.s=='c'"}],"mark":{"type":"line","stroke":"#00ffff","strokeWidth":2,"clip":true},
"encoding":{"x":{"field":"x","type":"quantitative","scale":{"domain":[0.5,12],"nice":false,"zero":false},"axis":{"orient":"bottom","values":[1,1.5,2,2.5,3,3.5,4,4.5,5,5.5,6,6.5,7,7.5,8,8.5,9,9.5,10,10.5,11,11.5,12],"format":"d","labelExpr":"datum.value % 2 == 0 ? datum.label : ''","offset":-8,"tickSize":8,"labelPadding":7,"title":null}},
"y":{"field":"y","type":"quantitative","scale":{"domain":[0.3,0.8],"nice":false,"zero":false},"axis":{"orient":"left","values":[0.3,0.32,0.34,0.36,0.38,0.4,0.42,0.44,0.46,0.48,0.5,0.52,0.54,0.56,0.58,0.6,0.62,0.64,0.66,0.68,0.7,0.72,0.74,0.76,0.78,0.8],"format":".1f","labelExpr":"abs(datum.value*10-round(datum.value*10))<0.001 ? datum.label : ''","offset":-8,"tickSize":8,"labelPadding":4,"title":null}}}},
{"transform":[{"filter":"datum.s=='o'"}],"mark":{"type":"line","stroke":"#ff8030","strokeWidth":2,"clip":true},
"encoding":{"x":{"field":"x","type":"quantitative","scale":{"domain":[0.5,12],"nice":false,"zero":false},"axis":{"orient":"top","values":[1,1.5,2,2.5,3,3.5,4,4.5,5,5.5,6,6.5,7,7.5,8,8.5,9,9.5,10,10.5,11,11.5],"labels":false,"offset":-8,"tickSize":8,"title":null}},
"y":{"field":"y","type":"quantitative","scale":{"domain":[0.3,0.8],"nice":false,"zero":false},"axis":{"orient":"right","values":[0.32,0.34,0.36,0.38,0.4,0.42,0.44,0.46,0.48,0.5,0.52,0.54,0.56,0.58,0.6,0.62,0.64,0.66,0.68,0.7,0.72,0.74,0.76,0.78],"labels":false,"offset":-8,"tickSize":8,"title":null}}}},
{"transform":[{"filter":"datum.s=='r'"}],"mark":{"type":"line","stroke":"#ff0000","strokeWidth":2,"clip":true}},
{"transform":[{"filter":"datum.s=='b'"}],"mark":{"type":"line","stroke":"#0000ff","strokeWidth":2,"strokeDash":[8,5],"clip":true}},
{"transform":[{"filter":"datum.s=='t'"}],"mark":{"type":"point","shape":"cross","size":110,"filled":true,"fill":"#00e000","stroke":"#0d3d0d","strokeWidth":1,"opacity":1,"clip":true}},
{"data":{"name":"lab"},"transform":[{"filter":"datum.f==0.2"}],"mark":{"type":"text","align":"right","baseline":"middle","font":"Liberation Sans","fontSize":23,"color":"black"},"encoding":{"text":{"field":"t"}}}
],
"resolve":{"axis":{"x":"independent","y":"independent"}}},

{"width":278,"height":306,"data":{"name":"d"},"transform":[{"filter":"datum.f==0.4"}],
"encoding":{"x":{"field":"x","type":"quantitative","scale":{"domain":[0.5,12],"nice":false,"zero":false},"axis":null},"y":{"field":"y","type":"quantitative","scale":{"domain":[0.5,0.8],"nice":false,"zero":false},"axis":null}},
"layer":[
{"transform":[{"filter":"datum.s=='c'"}],"mark":{"type":"line","stroke":"#00ffff","strokeWidth":2,"clip":true},
"encoding":{"x":{"field":"x","type":"quantitative","scale":{"domain":[0.5,12],"nice":false,"zero":false},"axis":{"orient":"bottom","values":[1,1.5,2,2.5,3,3.5,4,4.5,5,5.5,6,6.5,7,7.5,8,8.5,9,9.5,10,10.5,11,11.5,12],"format":"d","labelExpr":"datum.value % 2 == 0 ? datum.label : ''","offset":-8,"tickSize":8,"labelPadding":7,"title":null}},
"y":{"field":"y","type":"quantitative","scale":{"domain":[0.5,0.8],"nice":false,"zero":false},"axis":{"orient":"left","values":[0.5,0.51,0.52,0.53,0.54,0.55,0.56,0.57,0.58,0.59,0.6,0.61,0.62,0.63,0.64,0.65,0.66,0.67,0.68,0.69,0.7,0.71,0.72,0.73,0.74,0.75,0.76,0.77,0.78,0.79,0.8],"format":".2f","labelExpr":"abs(datum.value*20-round(datum.value*20))<0.001 ? datum.label : ''","offset":-8,"tickSize":8,"labelPadding":4,"title":"<F₁|F₂, dr, dz>","titlePadding":19}}}},
{"transform":[{"filter":"datum.s=='o'"}],"mark":{"type":"line","stroke":"#ff8030","strokeWidth":2,"clip":true},
"encoding":{"x":{"field":"x","type":"quantitative","scale":{"domain":[0.5,12],"nice":false,"zero":false},"axis":{"orient":"top","values":[1,1.5,2,2.5,3,3.5,4,4.5,5,5.5,6,6.5,7,7.5,8,8.5,9,9.5,10,10.5,11,11.5],"labels":false,"offset":-8,"tickSize":8,"title":null}},
"y":{"field":"y","type":"quantitative","scale":{"domain":[0.5,0.8],"nice":false,"zero":false},"axis":{"orient":"right","values":[0.51,0.52,0.53,0.54,0.55,0.56,0.57,0.58,0.59,0.6,0.61,0.62,0.63,0.64,0.65,0.66,0.67,0.68,0.69,0.7,0.71,0.72,0.73,0.74,0.75,0.76,0.77,0.78,0.79],"labels":false,"offset":-8,"tickSize":8,"title":null}}}},
{"transform":[{"filter":"datum.s=='r'"}],"mark":{"type":"line","stroke":"#ff0000","strokeWidth":2,"clip":true}},
{"transform":[{"filter":"datum.s=='b'"}],"mark":{"type":"line","stroke":"#0000ff","strokeWidth":2,"strokeDash":[8,5],"clip":true}},
{"transform":[{"filter":"datum.s=='t'"}],"mark":{"type":"point","shape":"cross","size":110,"filled":true,"fill":"#00e000","stroke":"#0d3d0d","strokeWidth":1,"opacity":1,"clip":true}},
{"data":{"name":"lab"},"transform":[{"filter":"datum.f==0.4"}],"mark":{"type":"text","align":"right","baseline":"middle","font":"Liberation Sans","fontSize":23,"color":"black"},"encoding":{"text":{"field":"t"}}}
],
"resolve":{"axis":{"x":"independent","y":"independent"}}},

{"width":281,"height":306,"data":{"name":"d"},"transform":[{"filter":"datum.f==0.6"}],
"encoding":{"x":{"field":"x","type":"quantitative","scale":{"domain":[0.5,12],"nice":false,"zero":false},"axis":null},"y":{"field":"y","type":"quantitative","scale":{"domain":[0.6,0.8],"nice":false,"zero":false},"axis":null}},
"layer":[
{"transform":[{"filter":"datum.s=='c'"}],"mark":{"type":"line","stroke":"#00ffff","strokeWidth":2,"clip":true},
"encoding":{"x":{"field":"x","type":"quantitative","scale":{"domain":[0.5,12],"nice":false,"zero":false},"axis":{"orient":"bottom","values":[1,1.5,2,2.5,3,3.5,4,4.5,5,5.5,6,6.5,7,7.5,8,8.5,9,9.5,10,10.5,11,11.5,12],"format":"d","labelExpr":"datum.value % 2 == 0 ? datum.label : ''","offset":-8,"tickSize":8,"labelPadding":7,"title":null}},
"y":{"field":"y","type":"quantitative","scale":{"domain":[0.6,0.8],"nice":false,"zero":false},"axis":{"orient":"left","values":[0.6,0.61,0.62,0.63,0.64,0.65,0.66,0.67,0.68,0.69,0.7,0.71,0.72,0.73,0.74,0.75,0.76,0.77,0.78,0.79,0.8],"format":".2f","labelExpr":"abs(datum.value*20-round(datum.value*20))<0.001 ? datum.label : ''","offset":-8,"tickSize":8,"labelPadding":4,"title":null}}}},
{"transform":[{"filter":"datum.s=='o'"}],"mark":{"type":"line","stroke":"#ff8030","strokeWidth":2,"clip":true},
"encoding":{"x":{"field":"x","type":"quantitative","scale":{"domain":[0.5,12],"nice":false,"zero":false},"axis":{"orient":"top","values":[1,1.5,2,2.5,3,3.5,4,4.5,5,5.5,6,6.5,7,7.5,8,8.5,9,9.5,10,10.5,11,11.5],"labels":false,"offset":-8,"tickSize":8,"title":null}},
"y":{"field":"y","type":"quantitative","scale":{"domain":[0.6,0.8],"nice":false,"zero":false},"axis":{"orient":"right","values":[0.61,0.62,0.63,0.64,0.65,0.66,0.67,0.68,0.69,0.7,0.71,0.72,0.73,0.74,0.75,0.76,0.77,0.78,0.79],"labels":false,"offset":-8,"tickSize":8,"title":null}}}},
{"transform":[{"filter":"datum.s=='r'"}],"mark":{"type":"line","stroke":"#ff0000","strokeWidth":2,"clip":true}},
{"transform":[{"filter":"datum.s=='b'"}],"mark":{"type":"line","stroke":"#0000ff","strokeWidth":2,"strokeDash":[8,5],"clip":true}},
{"transform":[{"filter":"datum.s=='t'"}],"mark":{"type":"point","shape":"cross","size":110,"filled":true,"fill":"#00e000","stroke":"#0d3d0d","strokeWidth":1,"opacity":1,"clip":true}},
{"data":{"name":"lab"},"transform":[{"filter":"datum.f==0.6"}],"mark":{"type":"text","align":"right","baseline":"middle","font":"Liberation Sans","fontSize":23,"color":"black"},"encoding":{"text":{"field":"t"}}}
],
"resolve":{"axis":{"x":"independent","y":"independent"}}},

{"width":278,"height":306,"data":{"name":"d"},"transform":[{"filter":"datum.f==0.8"}],
"encoding":{"x":{"field":"x","type":"quantitative","scale":{"domain":[0.5,12],"nice":false,"zero":false},"axis":null},"y":{"field":"y","type":"quantitative","scale":{"domain":[0.76,0.8],"nice":false,"zero":false},"axis":null}},
"layer":[
{"transform":[{"filter":"datum.s=='c'"}],"mark":{"type":"line","stroke":"#00ffff","strokeWidth":2,"clip":true},
"encoding":{"x":{"field":"x","type":"quantitative","scale":{"domain":[0.5,12],"nice":false,"zero":false},"axis":{"orient":"bottom","values":[1,1.5,2,2.5,3,3.5,4,4.5,5,5.5,6,6.5,7,7.5,8,8.5,9,9.5,10,10.5,11,11.5,12],"format":"d","labelExpr":"datum.value % 2 == 0 ? datum.label : ''","offset":-8,"tickSize":8,"labelPadding":7,"title":"dr (Mpc/h)","titleFontSize":31,"titlePadding":11}},
"y":{"field":"y","type":"quantitative","scale":{"domain":[0.76,0.8],"nice":false,"zero":false},"axis":{"orient":"left","values":[0.76,0.7625,0.765,0.7675,0.77,0.7725,0.775,0.7775,0.78,0.7825,0.785,0.7875,0.79,0.7925,0.795,0.7975,0.8],"format":".2f","labelExpr":"abs(datum.value*100-round(datum.value*100))<0.001 ? datum.label : ''","offset":-8,"tickSize":8,"labelPadding":4,"title":"<F₁|F₂, dr, dz>","titlePadding":19}}}},
{"transform":[{"filter":"datum.s=='o'"}],"mark":{"type":"line","stroke":"#ff8030","strokeWidth":2,"clip":true},
"encoding":{"x":{"field":"x","type":"quantitative","scale":{"domain":[0.5,12],"nice":false,"zero":false},"axis":{"orient":"top","values":[1,1.5,2,2.5,3,3.5,4,4.5,5,5.5,6,6.5,7,7.5,8,8.5,9,9.5,10,10.5,11,11.5],"labels":false,"offset":-8,"tickSize":8,"title":null}},
"y":{"field":"y","type":"quantitative","scale":{"domain":[0.76,0.8],"nice":false,"zero":false},"axis":{"orient":"right","values":[0.7625,0.765,0.7675,0.77,0.7725,0.775,0.7775,0.78,0.7825,0.785,0.7875,0.79,0.7925,0.795,0.7975],"labels":false,"offset":-8,"tickSize":8,"title":null}}}},
{"transform":[{"filter":"datum.s=='r'"}],"mark":{"type":"line","stroke":"#ff0000","strokeWidth":2,"clip":true}},
{"transform":[{"filter":"datum.s=='b'"}],"mark":{"type":"line","stroke":"#0000ff","strokeWidth":2,"strokeDash":[8,5],"clip":true}},
{"transform":[{"filter":"datum.s=='t'"}],"mark":{"type":"point","shape":"cross","size":110,"filled":true,"fill":"#00e000","stroke":"#0d3d0d","strokeWidth":1,"opacity":1,"clip":true}},
{"data":{"name":"lab"},"transform":[{"filter":"datum.f==0.8"}],"mark":{"type":"text","align":"right","baseline":"middle","font":"Liberation Sans","fontSize":23,"color":"black"},"encoding":{"text":{"field":"t"}}}
],
"resolve":{"axis":{"x":"independent","y":"independent"}}},

{"width":281,"height":306,"data":{"name":"d"},"transform":[{"filter":"datum.f==0.9"}],
"encoding":{"x":{"field":"x","type":"quantitative","scale":{"domain":[0.5,12],"nice":false,"zero":false},"axis":null},"y":{"field":"y","type":"quantitative","scale":{"domain":[0.79,0.88],"nice":false,"zero":false},"axis":null}},
"layer":[
{"transform":[{"filter":"datum.s=='c'"}],"mark":{"type":"line","stroke":"#00ffff","strokeWidth":2,"clip":true},
"encoding":{"x":{"field":"x","type":"quantitative","scale":{"domain":[0.5,12],"nice":false,"zero":false},"axis":{"orient":"bottom","values":[1,1.5,2,2.5,3,3.5,4,4.5,5,5.5,6,6.5,7,7.5,8,8.5,9,9.5,10,10.5,11,11.5,12],"format":"d","labelExpr":"datum.value % 2 == 0 ? datum.label : ''","offset":-8,"tickSize":8,"labelPadding":7,"title":"dr (Mpc/h)","titleFontSize":31,"titlePadding":11}},
"y":{"field":"y","type":"quantitative","scale":{"domain":[0.79,0.88],"nice":false,"zero":false},"axis":{"orient":"left","values":[0.79,0.795,0.8,0.805,0.81,0.815,0.82,0.825,0.83,0.835,0.84,0.845,0.85,0.855,0.86,0.865,0.87,0.875,0.88],"format":".2f","labelExpr":"abs(datum.value*50-round(datum.value*50))<0.001 ? datum.label : ''","offset":-8,"tickSize":8,"labelPadding":4,"title":null}}}},
{"transform":[{"filter":"datum.s=='o'"}],"mark":{"type":"line","stroke":"#ff8030","strokeWidth":2,"clip":true},
"encoding":{"x":{"field":"x","type":"quantitative","scale":{"domain":[0.5,12],"nice":false,"zero":false},"axis":{"orient":"top","values":[1,1.5,2,2.5,3,3.5,4,4.5,5,5.5,6,6.5,7,7.5,8,8.5,9,9.5,10,10.5,11,11.5],"labels":false,"offset":-8,"tickSize":8,"title":null}},
"y":{"field":"y","type":"quantitative","scale":{"domain":[0.79,0.88],"nice":false,"zero":false},"axis":{"orient":"right","values":[0.795,0.8,0.805,0.81,0.815,0.82,0.825,0.83,0.835,0.84,0.845,0.85,0.855,0.86,0.865,0.87,0.875],"labels":false,"offset":-8,"tickSize":8,"title":null}}}},
{"transform":[{"filter":"datum.s=='r'"}],"mark":{"type":"line","stroke":"#ff0000","strokeWidth":2,"clip":true}},
{"transform":[{"filter":"datum.s=='b'"}],"mark":{"type":"line","stroke":"#0000ff","strokeWidth":2,"strokeDash":[8,5],"clip":true}},
{"transform":[{"filter":"datum.s=='t'"}],"mark":{"type":"point","shape":"cross","size":110,"filled":true,"fill":"#00e000","stroke":"#0d3d0d","strokeWidth":1,"opacity":1,"clip":true}},
{"data":{"name":"lab"},"transform":[{"filter":"datum.f==0.9"}],"mark":{"type":"text","align":"right","baseline":"middle","font":"Liberation Sans","fontSize":23,"color":"black"},"encoding":{"text":{"field":"t"}}}
],
"resolve":{"axis":{"x":"independent","y":"independent"}}}
],
"config":{
"view":{"stroke":"black","strokeWidth":2},
"axis":{"domain":false,"grid":false,"ticks":true,"zindex":1,"labelFlush":false,"labelOverlap":false,"labelFont":"Liberation Sans","labelFontWeight":"bold","labelFontSize":18,"labelColor":"black","tickColor":"black","tickOpacity":1,"tickWidth":2,"titleFont":"Liberation Serif","titleFontWeight":"normal","titleFontSize":33,"titleColor":"black"}
}
}
